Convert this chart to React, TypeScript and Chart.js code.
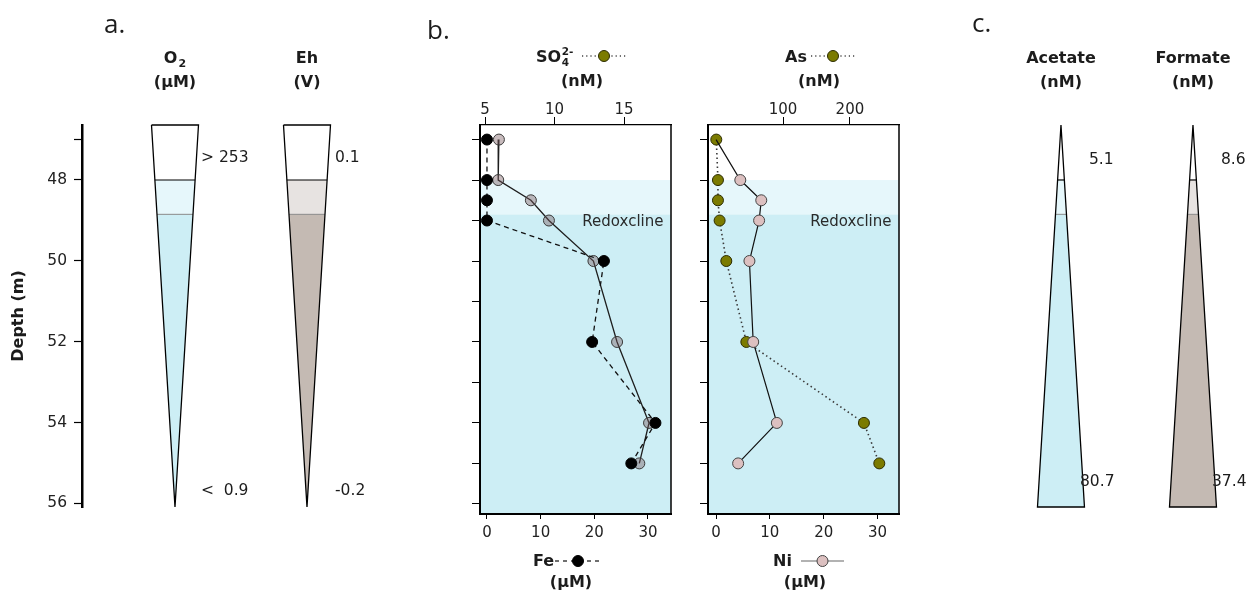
import React, { useEffect, useRef } from "react";
import { Chart, registerables } from "chart.js";

Chart.register(...registerables);

// ---------------- data ----------------
const sampleDepths = [47, 48, 48.5, 49, 50, 52, 54, 55]; // m
const feValues = [0, 0, 0, 0, 21.8, 19.6, 31.4, 26.9]; // µM
const so4Values = [6.0, 5.95, 8.3, 9.6, 12.8, 14.5, 16.8, 16.1]; // nM
const niValues = [0, 4.5, 8.4, 8.0, 6.2, 6.9, 11.3, 4.1]; // µM
const asValues = [0, 2.5, 2.5, 5, 15, 45, 221, 244]; // nM

const depthTicks = [47, 48, 50, 52, 54, 56];
const depthTickLabels = ["", "48", "50", "52", "54", "56"];
const profileDepthTicks = [47, 48, 49, 50, 51, 52, 53, 54, 55, 56];
const feTicks = [0, 10, 20, 30];
const so4Ticks = [5, 10, 15];
const niTicks = [0, 10, 20, 30];
const asTicks = [100, 200];

const zoneBoundaries = [48, 48.85];
const wedgeNames = ["O_2", "Eh", "Acetate", "Formate"];
const wedgeUnits = ["(µM)", "(V)", "(nM)", "(nM)"];
const wedgeTopValues = ["> 253", "0.1", "5.1", "8.6"];
const wedgeBottomValues = ["<  0.9", "-0.2", "80.7", "37.4"];

// ---------------- layout / style ----------------
const FONT = '"DejaVu Sans", "Liberation Sans", sans-serif';
const font = (size: number, bold = false) => `${bold ? "bold " : ""}${size}px ${FONT}`;
const TEXT = "#1c1c1c";

const DEPTH_TOP = 46.64;
const WEDGE_BOTTOM = 56.09;
const PROFILE_BOTTOM = 56.25;
const WEDGE_X = [1, 2, 7.712, 8.712];
const WEDGE_HALF = 0.178;
const WEDGE_NARROWS_DOWN = [true, true, false, false];
const BLUE_ZONES = ["#ffffff", "#e6f7fb", "#cdeef5"];
const TAUPE_ZONES = ["#ffffff", "#e7e3e1", "#c4bab3"];
const WEDGE_ZONES = [BLUE_ZONES, TAUPE_ZONES, BLUE_ZONES, TAUPE_ZONES];
const TOP_LABEL_DEPTH = [47.456, 47.456, 47.505, 47.505];
const BOTTOM_LABEL_DEPTH = [55.7, 55.7, 55.47, 55.47];
const TOP_LABEL_DX = [26, 28, 28, 28];
const BOTTOM_LABEL_DX = [26, 28, 19, 19];

function drawSubText(ctx: CanvasRenderingContext2D, spec: string, cx: number, y: number) {
  const [base, sub] = spec.split("_");
  ctx.font = font(16, true);
  const wb = ctx.measureText(base).width;
  let ws = 0;
  if (sub) {
    ctx.font = font(11, true);
    ws = ctx.measureText(sub).width + 1;
  }
  const left = cx - (wb + ws) / 2;
  ctx.textAlign = "left";
  ctx.font = font(16, true);
  ctx.fillText(base, left, y);
  if (sub) {
    ctx.font = font(11, true);
    ctx.fillText(sub, left + wb + 1, y + 4);
  }
}

const bgDecor = {
  id: "bgDecor",
  afterDraw(chart: any) {
    const { ctx, scales } = chart;
    const xs = scales.x;
    const ys = scales.y;
    ctx.save();
    ctx.fillStyle = TEXT;
    ctx.textBaseline = "alphabetic";
    ctx.textAlign = "left";
    ctx.font = '26px "Open Sans", sans-serif';
    ctx.fillText("a.", 104, 33);
    ctx.fillText("b.", 427, 39);
    ctx.fillText("c.", 972, 32);
    wedgeNames.forEach((name, i) => {
      const cx = xs.getPixelForValue(WEDGE_X[i]);
      ctx.textBaseline = "alphabetic";
      drawSubText(ctx, name, cx, 63);
      ctx.textAlign = "center";
      ctx.font = font(16, true);
      ctx.fillText(wedgeUnits[i], cx, 87);
      ctx.textAlign = "left";
      ctx.textBaseline = "middle";
      ctx.font = font(15.5);
      ctx.fillText(wedgeTopValues[i], cx + TOP_LABEL_DX[i], ys.getPixelForValue(TOP_LABEL_DEPTH[i]));
      ctx.fillText(wedgeBottomValues[i], cx + BOTTOM_LABEL_DX[i], ys.getPixelForValue(BOTTOM_LABEL_DEPTH[i]));
    });
    ctx.restore();
  },
};

function wedgeDatasets() {
  const outlines: any[] = [];
  const lines: any[] = [];
  const fills: any[] = [];
  const bounds = [DEPTH_TOP, ...zoneBoundaries, WEDGE_BOTTOM];
  wedgeNames.forEach((name, i) => {
    const c = WEDGE_X[i];
    const hw = (d: number) =>
      (WEDGE_HALF * (WEDGE_NARROWS_DOWN[i] ? WEDGE_BOTTOM - d : d - DEPTH_TOP)) / (WEDGE_BOTTOM - DEPTH_TOP);
    for (let b = 0; b < 3; b++) {
      const d1 = bounds[b];
      const d2 = bounds[b + 1];
      fills.push({
        label: `${name} zone ${b}`,
        data: [
          { x: c - hw(d1), y: d1 },
          { x: c + hw(d1), y: d1 },
          { x: c + hw(d2), y: d2 },
          { x: c - hw(d2), y: d2 },
          { x: c - hw(d1), y: d1 },
        ],
        fill: "shape",
        backgroundColor: WEDGE_ZONES[i][b],
        borderWidth: 0,
        borderColor: "rgba(0,0,0,0)",
        pointRadius: 0,
        clip: false,
      });
    }
    zoneBoundaries.forEach((d, k) => {
      lines.push({
        label: `${name} boundary ${d}`,
        data: [
          { x: c - hw(d), y: d },
          { x: c + hw(d), y: d },
        ],
        fill: false,
        borderColor: k === 0 ? "#000000" : "#8a8a8a",
        borderWidth: k === 0 ? 1.2 : 1,
        pointRadius: 0,
        clip: false,
      });
    });
    outlines.push({
      label: `${name} outline`,
      data: [
        { x: c - hw(DEPTH_TOP), y: DEPTH_TOP },
        { x: c + hw(DEPTH_TOP), y: DEPTH_TOP },
        { x: c + hw(WEDGE_BOTTOM), y: WEDGE_BOTTOM },
        { x: c - hw(WEDGE_BOTTOM), y: WEDGE_BOTTOM },
        { x: c - hw(DEPTH_TOP), y: DEPTH_TOP },
      ],
      fill: false,
      borderColor: "#000000",
      borderWidth: 1.3,
      borderJoinStyle: "miter",
      pointRadius: 0,
      clip: false,
    });
  });
  return [...outlines, ...lines, ...fills];
}

function backgroundConfig(): any {
  return {
    type: "line",
    data: { datasets: wedgeDatasets() },
    options: {
      responsive: false,
      animation: false,
      events: [],
      layout: { padding: { top: 125, bottom: 85, left: 0, right: 0 } },
      plugins: { legend: { display: false }, tooltip: { enabled: false } },
      scales: {
        x: { type: "linear", display: false, min: 0.2955, max: 9.197 },
        y: {
          type: "linear",
          position: "left",
          reverse: true,
          min: DEPTH_TOP,
          max: WEDGE_BOTTOM,
          afterBuildTicks: (s: any) => {
            s.ticks = depthTicks.map((v) => ({ value: v }));
          },
          afterFit: (s: any) => {
            s.width = 82;
          },
          ticks: {
            autoSkip: false,
            padding: 7,
            color: "#222",
            font: { family: FONT, size: 15.5 },
            callback: (v: number) => {
              const i = depthTicks.indexOf(v);
              return i >= 0 ? depthTickLabels[i] : "";
            },
          },
          grid: { drawOnChartArea: false, drawTicks: true, tickLength: 8, tickWidth: 1.2, tickColor: "#000" },
          border: { display: true, color: "#000", width: 2.5 },
          title: {
            display: true,
            text: "Depth (m)",
            color: "#1c1c1c",
            font: { family: FONT, size: 16, weight: "bold" },
            padding: { top: 9, bottom: 0 },
          },
        },
      },
    },
    plugins: [bgDecor],
  };
}

// ---------------- depth-profile panels (b) ----------------
type LegendStyle = { line: string; lw: number; dash: number[]; fill: string; stroke: string };

const OLIVE_STYLE: LegendStyle = { line: "#444", lw: 1.4, dash: [1.2, 3], fill: "#7b7b00", stroke: "#2c2c00" };
const FE_STYLE: LegendStyle = { line: "#111", lw: 1.2, dash: [4, 4], fill: "#000", stroke: "#000" };
const NI_STYLE: LegendStyle = { line: "#666", lw: 1.2, dash: [], fill: "#dcc0c0", stroke: "#444" };

function legendSample(ctx: CanvasRenderingContext2D, x1: number, x2: number, y: number, s: LegendStyle) {
  ctx.save();
  ctx.strokeStyle = s.line;
  ctx.lineWidth = s.lw;
  ctx.setLineDash(s.dash);
  ctx.beginPath();
  ctx.moveTo(x1, y);
  ctx.lineTo(x2, y);
  ctx.stroke();
  ctx.setLineDash([]);
  ctx.beginPath();
  ctx.arc((x1 + x2) / 2, y, 5.5, 0, Math.PI * 2);
  ctx.fillStyle = s.fill;
  ctx.fill();
  ctx.lineWidth = 1;
  ctx.strokeStyle = s.stroke;
  ctx.stroke();
  ctx.restore();
}

function makeProfileDecor(spec: any) {
  const ox = spec.offsetX;
  return {
    id: "profileDecor",
    beforeDraw(chart: any) {
      const { ctx, chartArea: a, scales } = chart;
      const y1 = scales.y.getPixelForValue(zoneBoundaries[0]);
      const y2 = scales.y.getPixelForValue(zoneBoundaries[1]);
      ctx.save();
      ctx.fillStyle = "#e6f7fb";
      ctx.fillRect(a.left, y1, a.right - a.left, y2 - y1);
      ctx.fillStyle = "#cdeef5";
      ctx.fillRect(a.left, y2, a.right - a.left, a.bottom - y2);
      ctx.restore();
    },
    beforeDatasetsDraw(chart: any) {
      const { ctx, chartArea: a, scales } = chart;
      ctx.save();
      ctx.strokeStyle = "#000";
      ctx.lineWidth = 1.5;
      ctx.beginPath();
      ctx.moveTo(a.right, a.top);
      ctx.lineTo(a.right, a.bottom);
      ctx.stroke();
      ctx.fillStyle = "#2a2a2a";
      ctx.font = font(15);
      ctx.textAlign = "right";
      ctx.textBaseline = "middle";
      ctx.fillText("Redoxcline", a.right - 7.5, scales.y.getPixelForValue(zoneBoundaries[1]) + 8);
      ctx.restore();
    },
    afterDraw(chart: any) {
      const { ctx } = chart;
      ctx.save();
      ctx.fillStyle = TEXT;
      ctx.textBaseline = "alphabetic";
      ctx.textAlign = "left";
      // top title
      ctx.font = font(16, true);
      ctx.fillText(spec.topName, spec.topX - ox, 62);
      const w = ctx.measureText(spec.topName).width;
      if (spec.topSub) {
        ctx.font = font(10.5, true);
        ctx.fillText(spec.topSub, spec.topX - ox + w + 0.5, 66);
        ctx.fillText(spec.topSup, spec.topX - ox + w + 0.5, 55);
      }
      legendSample(ctx, spec.topLegend[0] - ox, spec.topLegend[1] - ox, 56, spec.topStyle);
      ctx.textAlign = "center";
      ctx.font = font(16, true);
      ctx.fillText(spec.topUnit, spec.topUnitX - ox, 86);
      // bottom title
      ctx.textAlign = "left";
      ctx.fillText(spec.bottomName, spec.bottomX - ox, 566);
      legendSample(ctx, spec.bottomLegend[0] - ox, spec.bottomLegend[1] - ox, 561, spec.bottomStyle);
      ctx.textAlign = "center";
      ctx.fillText(spec.bottomUnit, spec.bottomUnitX - ox, 587);
      ctx.restore();
    },
  };
}

function profileConfig(spec: any): any {
  const tickFont = { family: FONT, size: 15 };
  return {
    type: "line",
    data: {
      datasets: [
        {
          label: spec.bottomName,
          xAxisID: "x",
          yAxisID: "y",
          data: sampleDepths.map((d, i) => ({ x: spec.bottomValues[i], y: d })),
          ...spec.bottomDataset,
          fill: false,
          clip: false,
        },
        {
          label: spec.topName,
          xAxisID: "x2",
          yAxisID: "y",
          data: sampleDepths.map((d, i) => ({ x: spec.topValues[i], y: d })),
          ...spec.topDataset,
          fill: false,
          clip: false,
        },
      ],
    },
    options: {
      responsive: false,
      animation: false,
      events: [],
      layout: { padding: { top: 0, bottom: 0, left: 0, right: 19 } },
      plugins: { legend: { display: false }, tooltip: { enabled: false } },
      scales: {
        y: {
          type: "linear",
          position: "left",
          reverse: true,
          min: DEPTH_TOP,
          max: PROFILE_BOTTOM,
          afterBuildTicks: (s: any) => {
            s.ticks = profileDepthTicks.map((v) => ({ value: v }));
          },
          afterFit: (s: any) => {
            s.width = 40;
          },
          ticks: { autoSkip: false, callback: () => "", padding: 0 },
          grid: { drawOnChartArea: false, tickLength: 8, tickWidth: 1, tickColor: "#000" },
          border: { display: true, color: "#000", width: 2 },
        },
        x: {
          type: "linear",
          position: "bottom",
          min: spec.bottomMin,
          max: spec.bottomMax,
          afterBuildTicks: (s: any) => {
            s.ticks = spec.bottomTicks.map((v: number) => ({ value: v }));
          },
          afterFit: (s: any) => {
            s.height = 78;
          },
          ticks: { autoSkip: false, padding: 5, color: "#222", font: tickFont, maxRotation: 0, callback: (v: number) => String(v) },
          grid: { drawOnChartArea: false, tickLength: 5, tickWidth: 1, tickColor: "#000" },
          border: { display: true, color: "#000", width: 2 },
        },
        x2: {
          type: "linear",
          position: "top",
          min: spec.topMin,
          max: spec.topMax,
          afterBuildTicks: (s: any) => {
            s.ticks = spec.topTicks.map((v: number) => ({ value: v }));
          },
          afterFit: (s: any) => {
            s.height = 125;
          },
          ticks: { autoSkip: false, padding: -2, color: "#222", font: tickFont, maxRotation: 0, callback: (v: number) => String(v) },
          grid: { drawOnChartArea: false, tickLength: 8, tickWidth: 1, tickColor: "#000" },
          border: { display: true, color: "#000", width: 1.2 },
        },
      },
    },
    plugins: [makeProfileDecor(spec)],
  };
}

const POINT_R = 5.5;

const FE_SO4_SPEC = {
  offsetX: 440,
  bottomName: "Fe",
  bottomValues: feValues,
  bottomTicks: feTicks,
  bottomMin: -1.3,
  bottomMax: 34.3,
  bottomX: 533,
  bottomLegend: [555, 601],
  bottomUnit: "(µM)",
  bottomUnitX: 571,
  bottomStyle: FE_STYLE,
  bottomDataset: {
    borderColor: "#111",
    borderWidth: 1.3,
    borderDash: [5, 4],
    pointRadius: POINT_R,
    pointBackgroundColor: "#000",
    pointBorderColor: "#000",
    pointBorderWidth: 1,
  },
  topName: "SO",
  topSub: "4",
  topSup: "2-",
  topValues: so4Values,
  topTicks: so4Ticks,
  topMin: 4.64,
  topMax: 18.38,
  topX: 536,
  topLegend: [582, 626],
  topUnit: "(nM)",
  topUnitX: 582,
  topStyle: OLIVE_STYLE,
  topDataset: {
    borderColor: "#1e1e1e",
    borderWidth: 1.3,
    pointRadius: POINT_R,
    pointBackgroundColor: "rgba(118,84,90,0.4)",
    pointBorderColor: "#3a3a3a",
    pointBorderWidth: 1,
  },
};

const NI_AS_SPEC = {
  offsetX: 668,
  bottomName: "Ni",
  bottomValues: niValues,
  bottomTicks: niTicks,
  bottomMin: -1.5,
  bottomMax: 34.0,
  bottomX: 773,
  bottomLegend: [801, 844],
  bottomUnit: "(µM)",
  bottomUnitX: 805,
  bottomStyle: NI_STYLE,
  bottomDataset: {
    borderColor: "#111",
    borderWidth: 1.2,
    pointRadius: sampleDepths.map((_, i) => (i === 0 ? 0 : POINT_R)),
    pointBackgroundColor: "#dcc0c0",
    pointBorderColor: "#444",
    pointBorderWidth: 1,
  },
  topName: "As",
  topSub: "",
  topSup: "",
  topValues: asValues,
  topTicks: asTicks,
  topMin: -12.4,
  topMax: 273.5,
  topX: 785,
  topLegend: [811, 855],
  topUnit: "(nM)",
  topUnitX: 819,
  topStyle: OLIVE_STYLE,
  topDataset: {
    borderColor: "#3a3a3a",
    borderWidth: 1.6,
    borderDash: [1.5, 3],
    pointRadius: POINT_R,
    pointBackgroundColor: "#7b7b00",
    pointBorderColor: "#2c2c00",
    pointBorderWidth: 1,
  },
};

export default function App() {
  const bgRef = useRef<HTMLCanvasElement>(null);
  const b1Ref = useRef<HTMLCanvasElement>(null);
  const b2Ref = useRef<HTMLCanvasElement>(null);

  useEffect(() => {
    const charts = [
      new Chart(bgRef.current as HTMLCanvasElement, backgroundConfig()),
      new Chart(b1Ref.current as HTMLCanvasElement, profileConfig(FE_SO4_SPEC)),
      new Chart(b2Ref.current as HTMLCanvasElement, profileConfig(NI_AS_SPEC)),
    ];
    return () => charts.forEach((c) => c.destroy());
  }, []);

  return (
    <div style={{ position: "absolute", left: 0, top: 0, width: 1257, height: 592, background: "#fff" }}>
      <canvas ref={bgRef} width={1257} height={592} style={{ position: "absolute", left: 0, top: 0 }} />
      <canvas ref={b1Ref} width={250} height={592} style={{ position: "absolute", left: 440, top: 0 }} />
      <canvas ref={b2Ref} width={250} height={592} style={{ position: "absolute", left: 668, top: 0 }} />
    </div>
  );
}
